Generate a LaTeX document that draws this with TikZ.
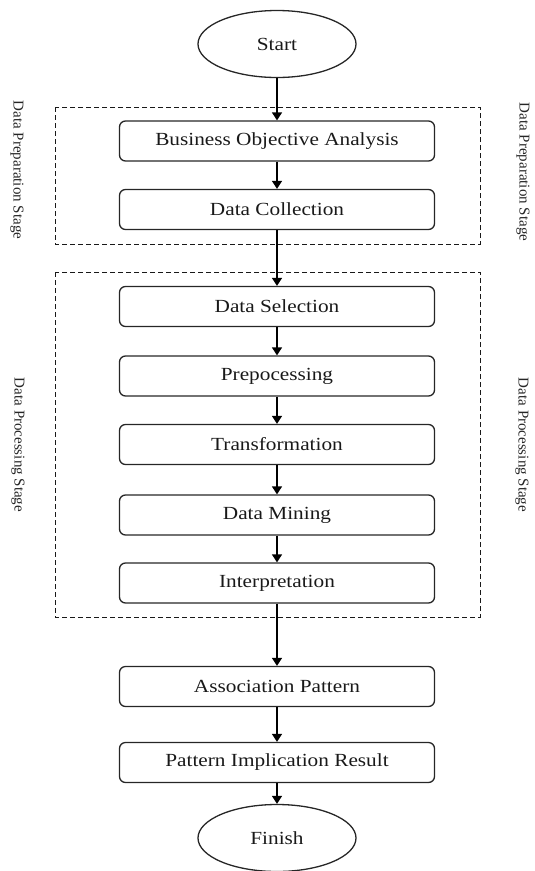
\documentclass[tikz,border=0pt]{standalone}
\usepackage{fontspec}
\setmainfont{Liberation Serif}
\newfontfamily\boxfont[FakeStretch=1.15]{Liberation Serif}
\newfontfamily\sidefont{Liberation Serif}
\usetikzlibrary{shapes.geometric,arrows.meta}
\begin{document}
\begin{tikzpicture}[x=1pt,y=-1pt,
  stepbox/.style={draw=black!85,line width=1.3pt,rounded corners=6pt,minimum width=315pt,minimum height=40pt,inner sep=0pt,text=black!90,font=\boxfont\fontsize{18.5}{22}\selectfont},
  term/.style={draw=black!85,line width=1.3pt,ellipse,minimum width=158pt,minimum height=67pt,inner sep=0pt,text=black!90,font=\boxfont\fontsize{18.5}{22}\selectfont},
  stagebox/.style={draw=black!90,line width=1pt,dash pattern=on 5pt off 3pt},
  sidelabel/.style={rotate=-90,text=black!85,inner sep=0pt,font=\sidefont\fontsize{15}{17}\selectfont},
  flow/.style={line width=1.5pt,-{Triangle[length=8pt,width=10pt]}}]
\useasboundingbox (0,0) rectangle (535,871);
% stage frames
\draw[stagebox] (55,107) rectangle (480,244);
\draw[stagebox] (55,272) rectangle (480,617);
% side labels
\node[sidelabel] (lprep) at (17,170) {Data Preparation Stage};
\node[sidelabel] (rprep) at (523,172) {Data Preparation Stage};
\node[sidelabel] (lproc) at (18,445) {Data Processing Stage};
\node[sidelabel] (rproc) at (522,445) {Data Processing Stage};
% nodes
\node[term] (start) at (277,44) {Start};
\node[stepbox] (boa) at (277,141) {Business Objective Analysis};
\node[stepbox] (dc) at (277,209.5) {Data Collection};
\node[stepbox] (ds) at (277,306.5) {Data Selection};
\node[stepbox] (pre) at (277,376) {Prepocessing};
\node[stepbox] (tr) at (277,444.5) {Transformation};
\node[stepbox] (dm) at (277,515) {Data Mining};
\node[stepbox] (ip) at (277,583) {Interpretation};
\node[stepbox] (ap) at (277,686.5) {Association Pattern};
\node[stepbox] (pir) at (277,762.5) {Pattern Implication Result};
\node[term] (fin) at (277,838) {Finish};
% connectors
\draw[flow] (start) -- (boa);
\draw[flow] (boa) -- (dc);
\draw[flow] (dc) -- (ds);
\draw[flow] (ds) -- (pre);
\draw[flow] (pre) -- (tr);
\draw[flow] (tr) -- (dm);
\draw[flow] (dm) -- (ip);
\draw[flow] (ip) -- (ap);
\draw[flow] (ap) -- (pir);
\draw[flow] (pir) -- (fin);
\end{tikzpicture}
\end{document}
